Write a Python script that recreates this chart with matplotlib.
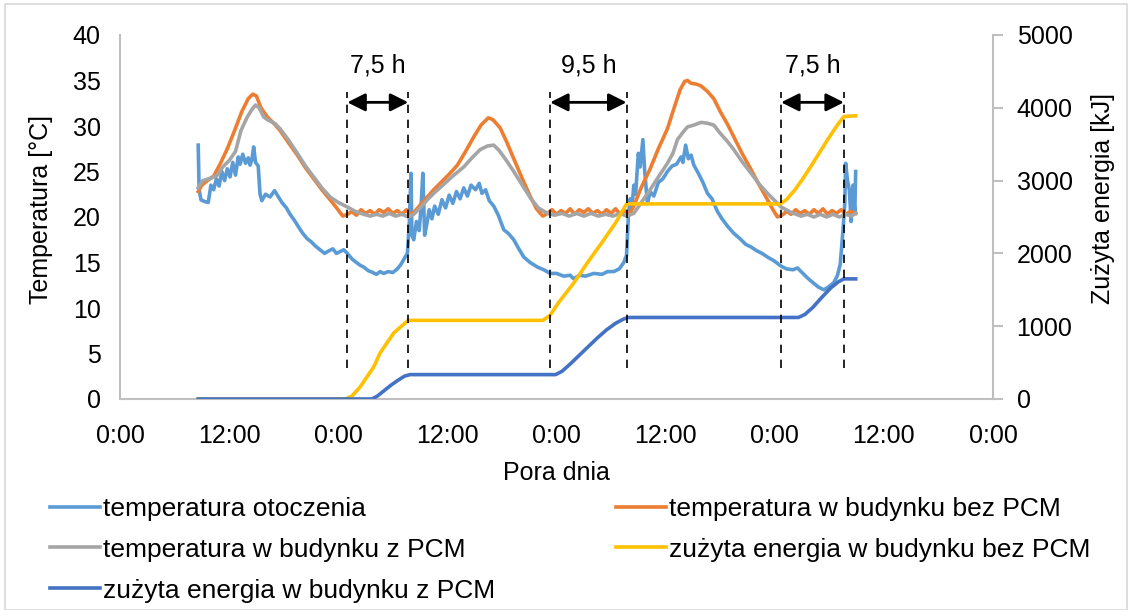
import numpy as np
import matplotlib
matplotlib.use("Agg")
import matplotlib.pyplot as plt
from matplotlib.patches import Rectangle

plt.rcParams['font.family'] = ['Liberation Sans', 'DejaVu Sans']
plt.rcParams['font.size'] = 18

# czas w godzinach od 0:00 pierwszego dnia
t_amb = [8.6, 8.7, 8.9, 9.3, 9.7, 10.0, 10.3, 10.6, 10.9, 11.2, 11.5, 11.8, 12.1, 12.4, 12.7, 13.0,
         13.2, 13.5, 13.8, 14.1, 14.3, 14.5, 14.7, 14.9, 15.2, 15.4, 15.6, 16.0, 16.5, 17.0, 17.3,
         17.8, 18.3, 18.7, 19.2, 19.7, 20.1, 20.6, 21.0, 21.5, 22.0, 22.5, 23.0, 23.4, 23.8, 24.2,
         24.6, 25.0, 25.5, 26.0, 26.4, 26.8, 27.3, 27.8, 28.2, 28.6, 29.0, 29.5, 30.0, 30.5, 30.9,
         31.3, 31.6, 31.8, 32.0, 32.1, 32.3, 32.6, 32.9, 33.1, 33.3, 33.5, 33.7, 34.0, 34.3, 34.6,
         35.0, 35.4, 35.8, 36.2, 36.6, 37.0, 37.4, 37.8, 38.2, 38.6, 39.1, 39.5, 39.8, 40.2, 40.6,
         41.1, 41.6, 42.2, 42.7, 43.3, 43.8, 44.4, 45.1, 45.9, 46.6, 47.3, 48.0, 48.8, 49.5, 49.9,
         50.5, 51.2, 52.1, 53.0, 53.6, 54.3, 54.9, 55.4, 55.7, 55.9, 56.1, 56.3, 56.5, 56.7, 57.0,
         57.2, 57.5, 57.7, 58.0, 58.3, 58.7, 59.2, 59.7, 60.2, 60.7, 61.2, 61.7, 61.9, 62.2, 62.5,
         62.8, 63.1, 63.6, 64.1, 64.6, 65.1, 65.7, 66.2, 66.8, 67.5, 68.2, 68.8, 69.4, 70.0, 70.6,
         71.2, 71.9, 72.7, 73.3, 74.0, 74.5, 75.0, 75.6, 76.3, 76.8, 77.4, 77.9, 78.5, 78.9, 79.2,
         79.5, 79.7, 79.8, 80.0, 80.2, 80.4, 80.6, 80.8, 80.9]
T_amb = [27.9, 23.0, 21.9, 21.7, 21.6, 23.5, 23.0, 24.2, 23.4, 25.0, 24.0, 25.3, 24.4, 26.0, 24.6, 26.6,
         25.8, 26.9, 25.9, 26.5, 25.7, 26.3, 27.7, 26.0, 25.6, 22.5, 21.8, 22.5, 22.2, 22.9, 22.4,
         21.6, 21.0, 20.3, 19.6, 18.8, 18.2, 17.6, 17.3, 16.8, 16.4, 16.0, 16.3, 16.5, 16.0, 16.2,
         16.4, 16.0, 15.4, 15.0, 14.7, 14.5, 14.1, 13.9, 13.7, 14.0, 13.8, 14.0, 13.9, 14.3, 14.8,
         15.5, 16.0, 19.0, 24.8, 18.0, 17.5, 19.5, 18.5, 21.0, 24.8, 18.0, 19.0, 20.8, 19.8, 21.2,
         20.3, 21.9, 21.0, 22.4, 21.5, 22.8, 22.0, 23.2, 22.3, 23.5, 23.0, 23.7, 22.6, 23.0, 21.8,
         21.2, 20.2, 18.6, 18.2, 17.5, 16.6, 15.6, 15.0, 14.5, 14.2, 13.8, 13.8, 13.5, 13.6, 13.2,
         13.6, 13.5, 13.8, 13.7, 14.0, 14.0, 14.3, 15.0, 15.8, 20.0, 22.0, 21.0, 23.5, 22.5, 27.0,
         25.5, 28.5, 25.0, 21.5, 22.8, 22.3, 23.8, 24.2, 25.0, 25.6, 25.8, 26.6, 26.0, 27.9, 26.4,
         26.8, 25.7, 24.8, 23.8, 22.6, 22.0, 20.6, 19.8, 19.0, 18.2, 17.6, 17.0, 16.7, 16.3, 16.0,
         15.6, 15.2, 14.6, 14.3, 14.2, 14.4, 13.9, 13.3, 12.7, 12.3, 12.0, 12.3, 12.8, 13.6, 14.8,
         18.5, 21.5, 25.9, 24.0, 23.0, 19.5, 23.5, 20.5, 25.0]

t_bez = [8.6, 9.0, 9.6, 10.3, 11.0, 11.8, 12.6, 13.4, 14.1, 14.6, 15.0, 15.5, 16.2, 17.0, 17.6, 18.5,
         19.5, 20.4, 21.3, 22.2, 23.1, 23.9, 24.5, 25.0, 25.5, 26.0, 26.5, 27.0, 27.5, 28.0, 28.5,
         29.0, 29.5, 30.0, 30.5, 31.0, 31.5, 31.8, 32.3, 33.0, 33.8, 34.5, 35.3, 36.2, 37.1, 38.0,
         38.9, 39.7, 40.5, 41.0, 41.8, 42.5, 43.3, 44.2, 45.1, 45.8, 46.5, 47.0, 47.5, 48.0, 48.5,
         49.0, 49.5, 50.0, 50.5, 51.0, 51.5, 52.0, 52.5, 53.0, 53.5, 54.0, 54.5, 55.0, 55.5, 56.0,
         56.5, 57.3, 58.3, 59.2, 60.2, 61.0, 61.6, 62.1, 62.4, 62.8, 63.4, 63.9, 64.6, 65.3, 66.0,
         66.8, 67.5, 68.4, 69.4, 70.3, 71.2, 71.8, 72.3, 72.8, 73.3, 73.8, 74.3, 74.8, 75.3, 75.8,
         76.3, 76.8, 77.3, 77.8, 78.3, 78.8, 79.3, 79.8, 80.3, 80.9]
T_bez = [22.8, 23.5, 24.0, 24.5, 25.8, 27.5, 29.5, 31.6, 33.0, 33.5, 33.3, 32.0, 31.0, 30.2, 29.5, 28.2,
         26.8, 25.4, 24.2, 23.0, 21.9, 20.9, 20.1, 20.3, 20.6, 20.2, 20.8, 20.4, 20.7, 20.3, 20.8,
         20.5, 20.9, 20.4, 20.7, 20.3, 20.8, 20.3, 20.5, 21.3, 22.2, 23.0, 23.8, 24.7, 25.7, 27.2,
         28.8, 30.1, 30.9, 30.7, 29.8, 28.3, 26.4, 24.3, 22.3, 20.9, 20.1, 20.4, 20.8, 20.3, 20.7,
         20.4, 20.9, 20.3, 20.8, 20.5, 20.9, 20.4, 20.7, 20.3, 20.8, 20.4, 20.9, 20.3, 20.7, 20.3,
         21.2, 23.2, 25.3, 27.5, 29.7, 32.2, 34.0, 34.9, 35.0, 34.7, 34.6, 34.4, 33.8, 33.0, 31.6,
         30.2, 28.8, 27.0, 25.2, 23.5, 21.9, 20.8, 20.0, 20.2, 20.6, 20.3, 20.8, 20.4, 20.7, 20.3,
         20.8, 20.4, 20.9, 20.3, 20.7, 20.4, 20.8, 20.3, 20.6, 20.4]

t_pcm = [8.6, 9.1, 10.1, 10.7, 11.3, 12.0, 12.7, 13.3, 14.0, 14.5, 14.9, 15.3, 15.8, 16.2, 17.0, 17.6,
         18.5, 19.5, 20.4, 21.3, 22.2, 23.1, 24.0, 25.0, 25.9, 26.8, 27.5, 28.2, 28.9, 29.6, 30.3,
         31.0, 31.7, 32.3, 33.0, 33.8, 34.5, 35.5, 36.6, 37.8, 38.7, 39.6, 40.4, 41.1, 41.7, 42.5,
         43.3, 44.3, 45.2, 46.0, 47.0, 47.8, 48.6, 49.4, 50.2, 51.0, 51.8, 52.6, 53.4, 54.2, 55.0,
         55.7, 56.5, 57.4, 58.3, 59.2, 60.2, 60.8, 61.3, 61.9, 62.4, 63.1, 63.9, 64.6, 65.3, 66.0,
         66.8, 67.5, 68.4, 69.4, 70.3, 71.2, 72.0, 72.7, 73.8, 74.9, 75.6, 76.3, 77.0, 77.7, 78.4,
         79.1, 79.8, 80.4, 80.9]
T_pcm = [23.2, 24.0, 24.3, 24.6, 25.5, 26.2, 27.2, 29.5, 31.0, 31.8, 32.3, 32.0, 31.0, 30.7, 30.3, 29.7,
         28.5, 27.0, 25.6, 24.4, 23.2, 22.2, 21.6, 21.1, 20.6, 20.3, 20.1, 20.3, 20.1, 20.4, 20.1,
         20.3, 20.0, 20.3, 21.0, 21.9, 22.6, 23.5, 24.5, 25.5, 26.5, 27.4, 27.8, 27.9, 27.3, 26.2,
         25.0, 23.4, 22.0, 21.0, 20.4, 20.2, 20.4, 20.1, 20.4, 20.1, 20.4, 20.1, 20.3, 20.1, 20.4,
         20.1, 20.4, 21.7, 23.0, 24.4, 25.9, 27.0, 28.5, 29.3, 29.9, 30.1, 30.4, 30.3, 30.1, 29.2,
         28.3, 27.4, 26.1, 24.8, 23.6, 22.6, 21.8, 21.1, 20.5, 20.1, 20.3, 20.0, 20.3, 20.0, 20.3,
         20.0, 20.3, 20.1, 20.4]

t_E_bez = [8.6, 24.8, 25.5, 26.4, 27.9, 28.6, 30.1, 31.7, 46.5, 47.3, 48.2, 49.9, 51.5, 53.0, 54.5,
           55.7, 72.6, 73.3, 74.2, 75.0, 76.0, 76.7, 77.8, 78.9, 79.6, 80.9]
E_bez = [0, 0, 40, 165, 440, 632, 907, 1080, 1080, 1150, 1320, 1594, 1890, 2150, 2420,
         2680, 2680, 2740, 2870, 3010, 3200, 3340, 3560, 3765, 3880, 3890]

t_E_pcm = [8.6, 27.7, 28.3, 29.0, 29.8, 30.6, 31.3, 31.9, 47.9, 48.6, 49.5, 50.5, 51.5, 52.5, 53.5,
           54.5, 55.4, 55.9, 74.6, 75.3, 76.2, 77.2, 78.2, 79.0, 79.6, 80.9]
E_pcm = [0, 0, 40, 110, 190, 260, 315, 335, 335, 380, 480, 600, 720, 840, 950,
         1040, 1100, 1120, 1120, 1160, 1260, 1400, 1530, 1610, 1650, 1650]

# przedzialy zaznaczone strzalkami
spans = [(25.0, 31.7), (47.3, 55.7), (72.7, 79.6)]
span_labels = ['7,5 h', '9,5 h', '7,5 h']

x_ticks = np.arange(0, 97, 12)
x_ticklabels = ['0:00', '12:00'] * 4 + ['0:00']

c_amb = '#5B9BD5'
c_bez = '#ED7D31'
c_pcm = '#A5A5A5'
c_Ebez = '#FFC000'
c_Epcm = '#4472C4'
grid_c = '#BFBFBF'
lw = 2.6

fig = plt.figure(figsize=(11.31, 6.10), dpi=100)
ax = fig.add_axes([120 / 1131, 1 - 399 / 610, 873 / 1131, 364 / 610])
ax2 = ax.twinx()

l1, = ax.plot(t_amb, T_amb, color=c_amb, lw=lw, label='temperatura otoczenia')
l2, = ax.plot(t_bez, T_bez, color=c_bez, lw=lw, label='temperatura w budynku bez PCM')
l3, = ax.plot(t_pcm, T_pcm, color=c_pcm, lw=lw, label='temperatura w budynku z PCM')
l4, = ax2.plot(t_E_bez, E_bez, color=c_Ebez, lw=lw, label='zużyta energia w budynku bez PCM')
l5, = ax2.plot(t_E_pcm, E_pcm, color=c_Epcm, lw=lw, label='zużyta energia w budynku z PCM')

ax.set_xlim(0, 96)
ax.set_ylim(0, 40)
ax2.set_ylim(0, 5000)
ax.set_xticks(x_ticks)
ax.set_xticklabels(x_ticklabels)
ax.set_yticks(np.arange(0, 41, 5))
ax2.set_yticks(np.arange(0, 5001, 1000))

for a in (ax, ax2):
    for s in a.spines.values():
        s.set_visible(False)
ax.spines['left'].set_visible(True)
ax.spines['bottom'].set_visible(True)
ax2.spines['right'].set_visible(True)
for s in (ax.spines['left'], ax.spines['bottom'], ax2.spines['right']):
    s.set_color(grid_c)
    s.set_linewidth(1.5)

ax.tick_params(axis='y', length=0, pad=14)
ax.tick_params(axis='x', length=0, pad=18)
ax2.tick_params(axis='y', length=7, color=grid_c, width=1.5, pad=10)

ax.set_ylabel('Temperatura [°C]')
ax.yaxis.set_label_coords(-0.077, 0.52)
ax2.set_ylabel('Zużyta energia [kJ]')
ax2.yaxis.set_label_coords(1.112, 0.55)
ax.set_xlabel('Pora dnia')
ax.xaxis.set_label_coords(0.5, -0.17)

# linie przerywane i strzalki
for (a, b), lab in zip(spans, span_labels):
    for xv in (a, b):
        ax2.plot([xv, xv], [3.4, 33.7], transform=ax.transData, color='black',
                 lw=1.2, ls=(0, (5, 4)), zorder=5)
    ax2.annotate('', xy=(b, 32.6), xytext=(a, 32.6), xycoords=ax.transData,
                 textcoords=ax.transData,
                 arrowprops=dict(arrowstyle='<|-|>,head_length=0.6,head_width=0.3',
                                 color='black', lw=2, shrinkA=0, shrinkB=0), zorder=6)
    ax2.text((a + b) / 2, 36.6, lab, transform=ax.transData, ha='center', va='center',
             fontsize=18)

handles = [l1, l3, l5, l2, l4]
fig.legend(handles, [h.get_label() for h in handles], loc='upper left',
           bbox_to_anchor=(26 / 1131, 1 - 473 / 610), ncol=2, frameon=False,
           handlelength=1.9, handletextpad=0.1, columnspacing=4.6, labelspacing=0.64,
           fontsize=19)

fig.patches.append(Rectangle((5 / 1131, 0), 1122 / 1131, 1 - 4 / 610, transform=fig.transFigure,
                             fill=False, edgecolor='#D9D9D9', lw=1.2))

fig.savefig('out.png', dpi=100)
